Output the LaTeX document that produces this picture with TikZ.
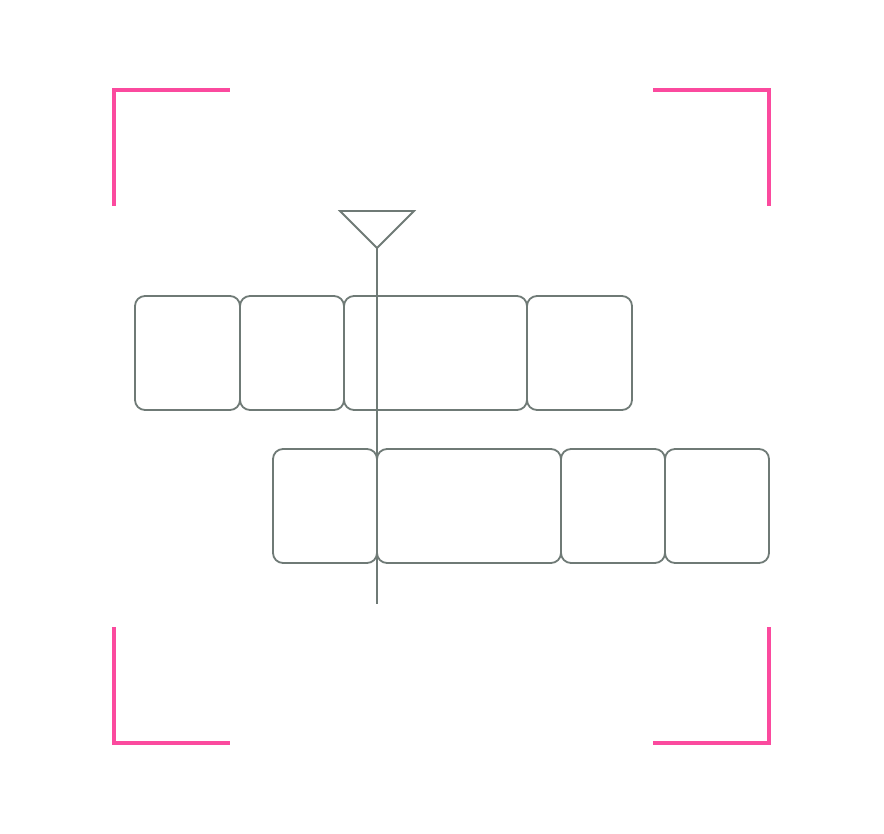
\documentclass[tikz,border=0pt]{standalone}
\usepackage{tikz}
\usetikzlibrary{arrows}
\definecolor{framepink}{HTML}{FB4A9E}
\definecolor{slotgray}{HTML}{6F7A76}
\begin{document}
\begin{tikzpicture}[x=1pt,y=-1pt]
			\tikzstyle{slot} = [
				rectangle, draw = slotgray, line width = 1.8pt,
				rounded corners = 10pt, inner sep = 0pt, minimum height = 114pt
			]
			\tikzstyle{corner}=[-,draw=framepink,line width=3.6pt]
			\tikzstyle{marker}=[-,draw=slotgray,line width=1.8pt]
			\useasboundingbox (0,0) rectangle (884,834);
			% corner brackets
			\draw [corner] (114,206) -- (114,90) -- (230,90);
			\draw [corner] (653,90) -- (769,90) -- (769,206);
			\draw [corner] (114,627) -- (114,743) -- (230,743);
			\draw [corner] (653,743) -- (769,743) -- (769,627);
			% upper row
			\node[slot, minimum width = 105pt] (a1) at (187.5,353) {};
			\node[slot, minimum width = 104pt] (a2) at (292,353) {};
			\node[slot, minimum width = 183pt] (a3) at (435.5,353) {};
			\node[slot, minimum width = 105pt] (a4) at (579.5,353) {};
			% lower row
			\node[slot, minimum width = 104pt] (b1) at (325,506) {};
			\node[slot, minimum width = 184pt] (b2) at (469,506) {};
			\node[slot, minimum width = 104pt] (b3) at (613,506) {};
			\node[slot, minimum width = 104pt] (b4) at (717,506) {};
			% playhead
			\coordinate (tipL) at (340,211);
			\coordinate (tipR) at (414,211);
			\coordinate (tip) at (377,248);
			\coordinate (foot) at (377,604);
			\draw [marker, line join=miter] (tipL) -- (tipR) -- (tip) -- cycle;
			\draw (tip) to (foot) [marker];
		\end{tikzpicture}
\end{document}
